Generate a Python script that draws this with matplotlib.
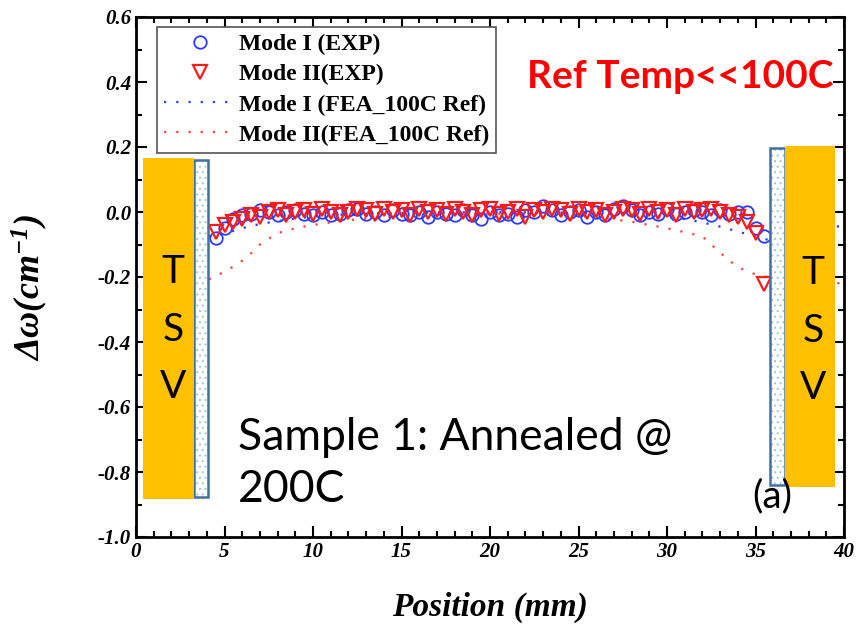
import numpy as np
import matplotlib
matplotlib.use("Agg")
import matplotlib.pyplot as plt
from matplotlib.patches import Rectangle

plt.rcParams['hatch.linewidth'] = 0.7
plt.rcParams['mathtext.fontset'] = 'custom'
plt.rcParams['mathtext.rm'] = 'Liberation Serif:bold:italic'
plt.rcParams['mathtext.it'] = 'Liberation Serif:bold:italic'
plt.rcParams['mathtext.bf'] = 'Liberation Serif:bold:italic'

# measured points (mm, cm^-1)
x_exp = [4.5, 5.0, 5.5, 6.0, 6.5, 7.0, 7.5, 8.0, 8.5, 9.0, 9.5, 10.0, 10.5, 11.0, 11.5,
         12.0, 12.5, 13.0, 13.5, 14.0, 14.5, 15.0, 15.5, 16.0, 16.5, 17.0, 17.5, 18.0,
         18.5, 19.0, 19.5, 20.0, 20.5, 21.0, 21.5, 22.0, 22.5, 23.0, 23.5, 24.0, 24.5,
         25.0, 25.5, 26.0, 26.5, 27.0, 27.5, 28.0, 28.5, 29.0, 29.5, 30.0, 30.5, 31.0,
         31.5, 32.0, 32.5, 33.0, 33.5, 34.0, 34.5, 35.0, 35.5]
mode1_exp = [-0.08, -0.05, -0.02, -0.01, -0.005, 0.005, 0.0, -0.01, 0.0, 0.005, -0.005,
             -0.01, 0.0, -0.01, -0.005, 0.005, 0.01, -0.005, 0.0, -0.01, 0.005, -0.005,
             -0.01, 0.0, -0.015, 0.0, -0.005, -0.01, 0.005, -0.01, -0.02, 0.0, -0.01,
             -0.005, -0.015, 0.005, 0.0, 0.02, 0.005, -0.01, 0.0, 0.005, -0.015, 0.0,
             -0.01, 0.01, 0.02, 0.005, -0.01, 0.0, -0.005, 0.01, -0.005, 0.0, 0.005,
             0.0, -0.01, 0.005, -0.005, 0.0, 0.0, -0.05, -0.075]
mode2_exp = [-0.06, -0.04, -0.03, -0.02, -0.01, -0.015, 0.0, 0.005, -0.01, 0.0, 0.005,
             -0.005, 0.01, 0.0, -0.01, 0.0, 0.01, 0.005, -0.005, 0.01, 0.0, 0.005,
             -0.01, 0.01, 0.0, 0.005, -0.005, 0.01, 0.0, -0.01, 0.005, 0.01, -0.005,
             0.0, 0.01, -0.015, 0.005, 0.0, 0.01, 0.005, -0.005, 0.01, 0.0, 0.005,
             -0.01, 0.0, 0.01, 0.005, -0.005, 0.01, 0.0, 0.005, -0.01, 0.01, 0.0,
             0.005, 0.01, 0.0, -0.01, -0.015, -0.03, -0.065, -0.22]

# FEA curves
x_fea = [0, 4.0, 4.5, 5.0, 5.5, 6.0, 6.5, 7.0, 8.0, 9.0, 10, 11, 12, 14, 16, 18, 20,
         22, 24, 26, 28, 30, 31, 32, 33, 34, 35, 36, 40]
mode1_fea = [-0.035, -0.075, -0.072, -0.067, -0.058, -0.05, -0.043, -0.037, -0.028,
             -0.02, -0.014, -0.01, -0.007, -0.004, -0.002, -0.001, 0.0, -0.001, -0.002,
             -0.004, -0.008, -0.015, -0.022, -0.032, -0.045, -0.06, -0.075, -0.09, -0.04]
mode2_fea = [-0.23, -0.21, -0.198, -0.183, -0.168, -0.15, -0.127, -0.1, -0.065, -0.05,
             -0.04, -0.032, -0.025, -0.015, -0.01, -0.006, -0.005, -0.006, -0.01,
             -0.016, -0.03, -0.05, -0.062, -0.075, -0.125, -0.17, -0.192, -0.205, -0.22]

W, H = 857, 631
fig = plt.figure(figsize=(W / 100, H / 100), dpi=100)
ax = fig.add_axes([136 / W, 1 - 537 / H, 708 / W, 520 / H])

blue = '#2a3cff'
red = '#ff1a1a'
dots = (0, (1, 4.5))

ax.plot(x_exp, mode1_exp, 'o', mfc='none', mec=blue, ms=9, mew=1.3, label='Mode I (EXP)', zorder=3)
ax.plot(x_exp, mode2_exp, 'v', mfc='none', mec=red, ms=10, mew=1.6, label='Mode II(EXP)', zorder=4)
ax.plot(x_fea, mode1_fea, color=blue, ls=dots, lw=1.6, label='Mode I (FEA_100C Ref)', zorder=2)
ax.plot(x_fea, mode2_fea, color='#ff4040', ls=dots, lw=1.6, label='Mode II(FEA_100C Ref)', zorder=2)

ax.set_xlim(0, 40)
ax.set_ylim(-1.0, 0.6)
ax.set_xticks(np.arange(0, 41, 5))
ax.set_xticks(np.arange(0, 41, 1), minor=True)
yt = np.round(np.arange(-1.0, 0.61, 0.2), 1)
ax.set_yticks(yt)
ax.set_yticks(np.arange(-1.0, 0.61, 0.1), minor=True)
ax.set_yticklabels(['%.1f' % (v + 0.0) if abs(v) > 1e-9 else '0.0' for v in yt])
ax.tick_params(which='both', direction='in', top=True, right=True, width=1.5)
ax.tick_params(which='major', length=8)
ax.tick_params(which='minor', length=4)
for lab in ax.get_xticklabels() + ax.get_yticklabels():
    lab.set_family('Liberation Serif')
    lab.set_weight('bold')
    lab.set_style('italic')
    lab.set_fontsize(15)
for s in ax.spines.values():
    s.set_linewidth(2)

lbl = dict(family='Liberation Serif', weight='bold', style='italic', fontsize=24)
ax.set_xlabel('Position (mm)', **lbl)
ax.xaxis.set_label_coords(0.5, -0.135)
ax.xaxis.label.set_va('center')
ax.set_ylabel(r'$\Delta\omega$(cm$^{-1}$)', family='Liberation Serif', weight='bold',
              style='italic', fontsize=26)
ax.yaxis.set_label_coords(-0.15, 0.48)
ax.yaxis.label.set_va('center')

# TSV blocks
orange = '#FFC000'
edge = '#41719C'
ax.add_patch(Rectangle((3.28, -0.877), 0.79, 1.037, facecolor='white', edgecolor='#9DC3E6',
                       hatch='...', lw=0, zorder=5))
ax.add_patch(Rectangle((3.28, -0.877), 0.79, 1.037, facecolor='none', edgecolor=edge, lw=1.8, zorder=6))
ax.add_patch(Rectangle((0.4, -0.883), 2.88, 1.049, facecolor=orange, edgecolor='none', zorder=7))

ax.add_patch(Rectangle((35.8, -0.84), 0.87, 1.037, facecolor='white', edgecolor='#9DC3E6',
                       hatch='...', lw=0, zorder=5))
ax.add_patch(Rectangle((35.8, -0.84), 0.87, 1.037, facecolor='none', edgecolor=edge, lw=1.8, zorder=6))
ax.add_patch(Rectangle((36.67, -0.846), 2.83, 1.049, facecolor=orange, edgecolor='none', zorder=7))

def ftext(px, py, s, **kw):
    fig.text(px / W, 1 - py / H, s, **kw)

for cx in (173, 813):
    for cy, ch in zip((272, 330, 387), 'TSV'):
        ftext(cx, cy + (1 if cx > 800 else 0), ch, family='Lato', fontsize=28, ha='center', va='center', zorder=10)

ftext(527, 76, 'Ref Temp<<100C', family='Lato', fontweight='bold', fontsize=28, color='#ff0000', va='center')
ftext(238, 437, 'Sample 1: Annealed @', family='Lato', fontsize=32, va='center')
ftext(238, 490, '200C', family='Lato', fontsize=32, va='center')
ftext(752, 496, '(a)', family='Lato', fontsize=28, va='center')

leg = ax.legend(loc='upper left', bbox_to_anchor=(0.03, 0.981), borderaxespad=0,
                prop=dict(family='Liberation Serif', weight='bold', size=17),
                frameon=True, fancybox=False, edgecolor='#555555', framealpha=1,
                handlelength=3.0, handletextpad=0.15, labelspacing=0.36, borderpad=0.3)
leg.get_frame().set_linewidth(1.2)
leg.set_zorder(8)

fig.savefig('out.png', dpi=100)
